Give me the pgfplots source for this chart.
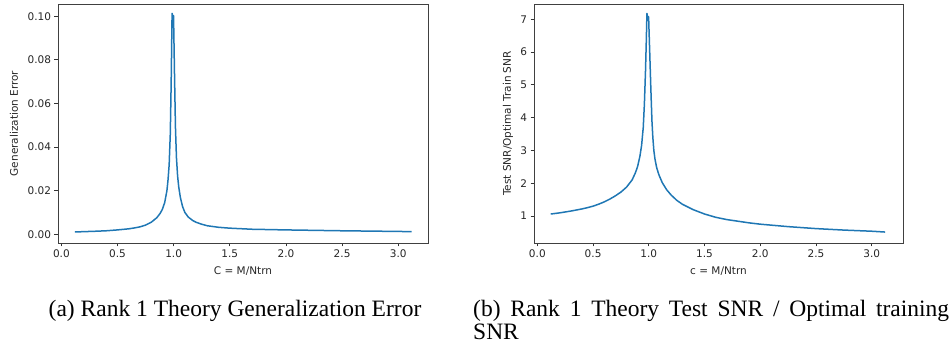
\documentclass[border=0pt]{standalone}
\usepackage{pgfplots}
\pgfplotsset{compat=1.18}
\usepackage{fontspec}
\setmainfont{Liberation Serif}
\newfontfamily\dejavu{DejaVu Sans}
\definecolor{mplblue}{HTML}{1F77B4}
\pgfplotsset{
  mpl/.style={
    scale only axis,
    anchor=south west,
    xtick pos=bottom, ytick pos=left,
    tick align=outside,
    major tick length=3.5pt,
    tick style={black!80, line width=0.8pt},
    axis line style={line width=0.8pt, black!75},
    tick label style={font=\dejavu\fontsize{10.5}{12}\selectfont, text=black!85},
    label style={font=\dejavu\fontsize{10.5}{12}\selectfont, text=black!85},
    /pgf/number format/assume math mode=true,
    xtick={0,0.5,1,1.5,2,2.5,3},
    xticklabel style={/pgf/number format/.cd, fixed, fixed zerofill, precision=1},
  },
  mplline/.style={color=mplblue, line width=1.5pt, line join=round, mark=none},
}
\begin{document}
\begin{tikzpicture}
\path (0,0) rectangle (951pt,347pt);
\begin{axis}[mpl, at={(58pt,104pt)}, width=370pt, height=239pt,
  xmin=-0.03, xmax=3.265, ymin=-0.004, ymax=0.1056,
  ytick={0,0.02,0.04,0.06,0.08,0.10},
  yticklabel style={/pgf/number format/.cd, fixed, fixed zerofill, precision=2},
  xlabel={C = M/Ntrn}, ylabel={Generalization Error},
  xlabel style={at={(axis description cs:0.5,-0.116)}, anchor=center},
  ylabel style={at={(axis description cs:-0.119,0.5)}, anchor=center},
]
\addplot[mplline] coordinates {(0.12,0.00105)(0.2,0.0012)(0.3,0.00138)(0.4,0.0016)(0.5,0.0020)(0.6,0.0025)(0.65,0.0029)(0.7,0.0034)(0.75,0.0042)(0.8,0.0055)(0.85,0.0076)(0.88,0.0096)(0.9,0.0115)(0.92,0.0145)(0.94,0.0200)(0.95,0.0250)(0.96,0.0320)(0.97,0.0460)(0.978,0.0700)(0.986,0.1013)(0.994,0.0996)(0.999,0.1002)(1.008,0.0720)(1.016,0.0490)(1.025,0.0350)(1.035,0.0268)(1.045,0.0218)(1.06,0.0168)(1.08,0.0126)(1.1,0.0100)(1.13,0.0079)(1.17,0.0063)(1.2,0.0055)(1.25,0.0046)(1.3,0.0039)(1.4,0.0032)(1.5,0.0028)(1.7,0.0023)(2.0,0.0020)(2.5,0.0016)(3.0,0.0013)(3.12,0.0012)};
\end{axis}
\begin{axis}[mpl, at={(534pt,104pt)}, width=369pt, height=239pt,
  xmin=-0.03, xmax=3.28, ymin=0.176, ymax=7.468,
  ytick={1,2,3,4,5,6,7},
  xlabel={c = M/Ntrn}, ylabel={Test SNR/Optimal Train SNR},
  xlabel style={at={(axis description cs:0.5,-0.116)}, anchor=center},
  ylabel style={at={(axis description cs:-0.0705,0.5)}, anchor=center},
]
\addplot[mplline] coordinates {(0.12,1.06)(0.2,1.095)(0.3,1.15)(0.4,1.215)(0.45,1.255)(0.5,1.30)(0.55,1.36)(0.6,1.43)(0.65,1.515)(0.7,1.615)(0.75,1.73)(0.8,1.88)(0.85,2.10)(0.88,2.32)(0.9,2.52)(0.92,2.82)(0.935,3.15)(0.95,3.7)(0.96,4.4)(0.97,5.4)(0.977,6.3)(0.983,7.18)(0.992,7.02)(0.998,7.08)(1.008,6.0)(1.018,4.9)(1.028,3.9)(1.036,3.4)(1.045,3.0)(1.055,2.74)(1.07,2.48)(1.09,2.26)(1.12,2.02)(1.16,1.80)(1.2,1.64)(1.25,1.48)(1.3,1.36)(1.4,1.19)(1.5,1.06)(1.6,0.96)(1.7,0.89)(1.8,0.84)(1.9,0.79)(2.0,0.75)(2.25,0.675)(2.5,0.615)(2.75,0.57)(3.0,0.535)(3.12,0.51)};
\end{axis}
\node[anchor=base, font=\fontsize{23.5}{26}\selectfont, inner sep=0pt] at (235pt,30pt) {(a) Rank 1 Theory Generalization Error};
\node[anchor=base west, font=\fontsize{23.5}{26}\selectfont, inner sep=0pt] at (473pt,30pt) {\makebox[476pt][s]{(b) Rank 1 Theory Test SNR / Optimal training}};
\node[anchor=base west, font=\fontsize{23.5}{26}\selectfont, inner sep=0pt] at (473pt,7pt) {SNR};
\end{tikzpicture}
\end{document}
